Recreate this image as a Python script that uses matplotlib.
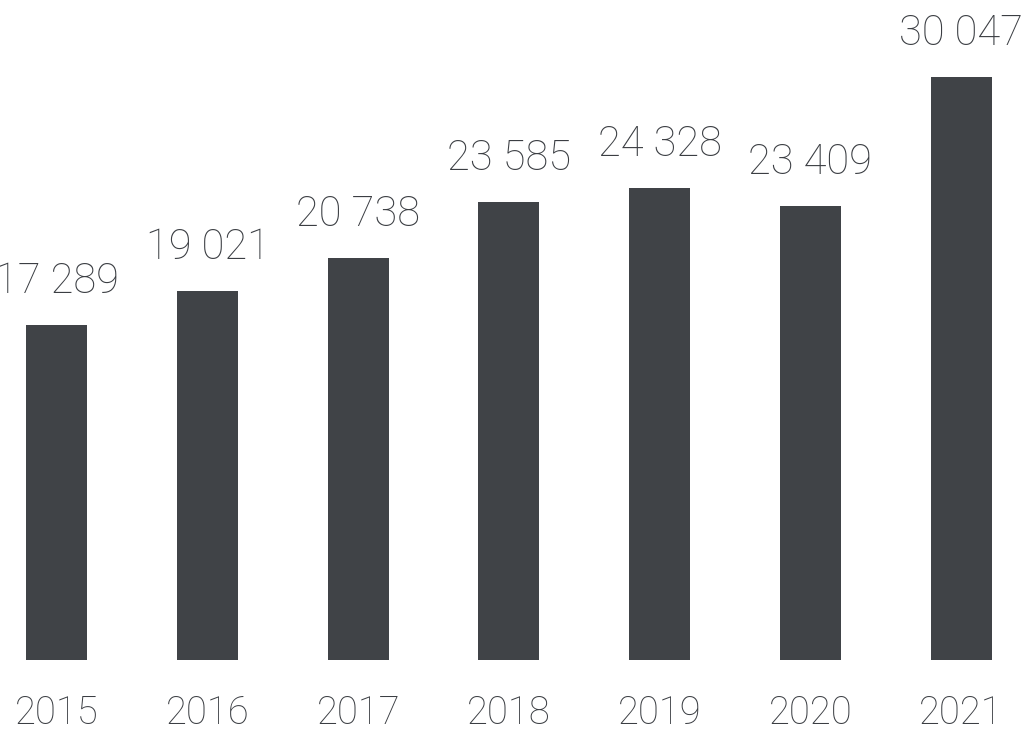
import matplotlib
matplotlib.use("Agg")
import matplotlib.pyplot as plt

years = ["2015", "2016", "2017", "2018", "2019", "2020", "2021"]
values = [17289, 19021, 20738, 23585, 24328, 23409, 30047]
labels = ["17 289", "19 021", "20 738", "23 585", "24 328", "23 409", "30 047"]

bar_color = "#404347"
text_color = "#3b3e43"
fam = ["Roboto", "Lato", "DejaVu Sans"]

fig = plt.figure(figsize=(10.24, 7.34), dpi=100)
ax = fig.add_axes([0, 1 - 660 / 734, 1, 660 / 734])
x = list(range(len(years)))
ax.bar(x, values, width=0.405, color=bar_color)
ax.set_xlim(-0.378, 6.418)
ax.set_ylim(0, 34015)

for xi, v, lab in zip(x, values, labels):
    ax.annotate(lab, (xi, v), xytext=(0, 23), textcoords="offset points",
                ha="center", va="baseline", fontsize=30, color=text_color,
                family=fam, fontweight="light", annotation_clip=False)

ax.set_xticks(x)
ax.set_xticklabels(years, fontsize=27.5, color=text_color, family=fam, fontweight="light")
ax.tick_params(axis="x", length=0, pad=25)
ax.set_yticks([])
for s in ax.spines.values():
    s.set_visible(False)

fig.savefig("out.png", dpi=100)
